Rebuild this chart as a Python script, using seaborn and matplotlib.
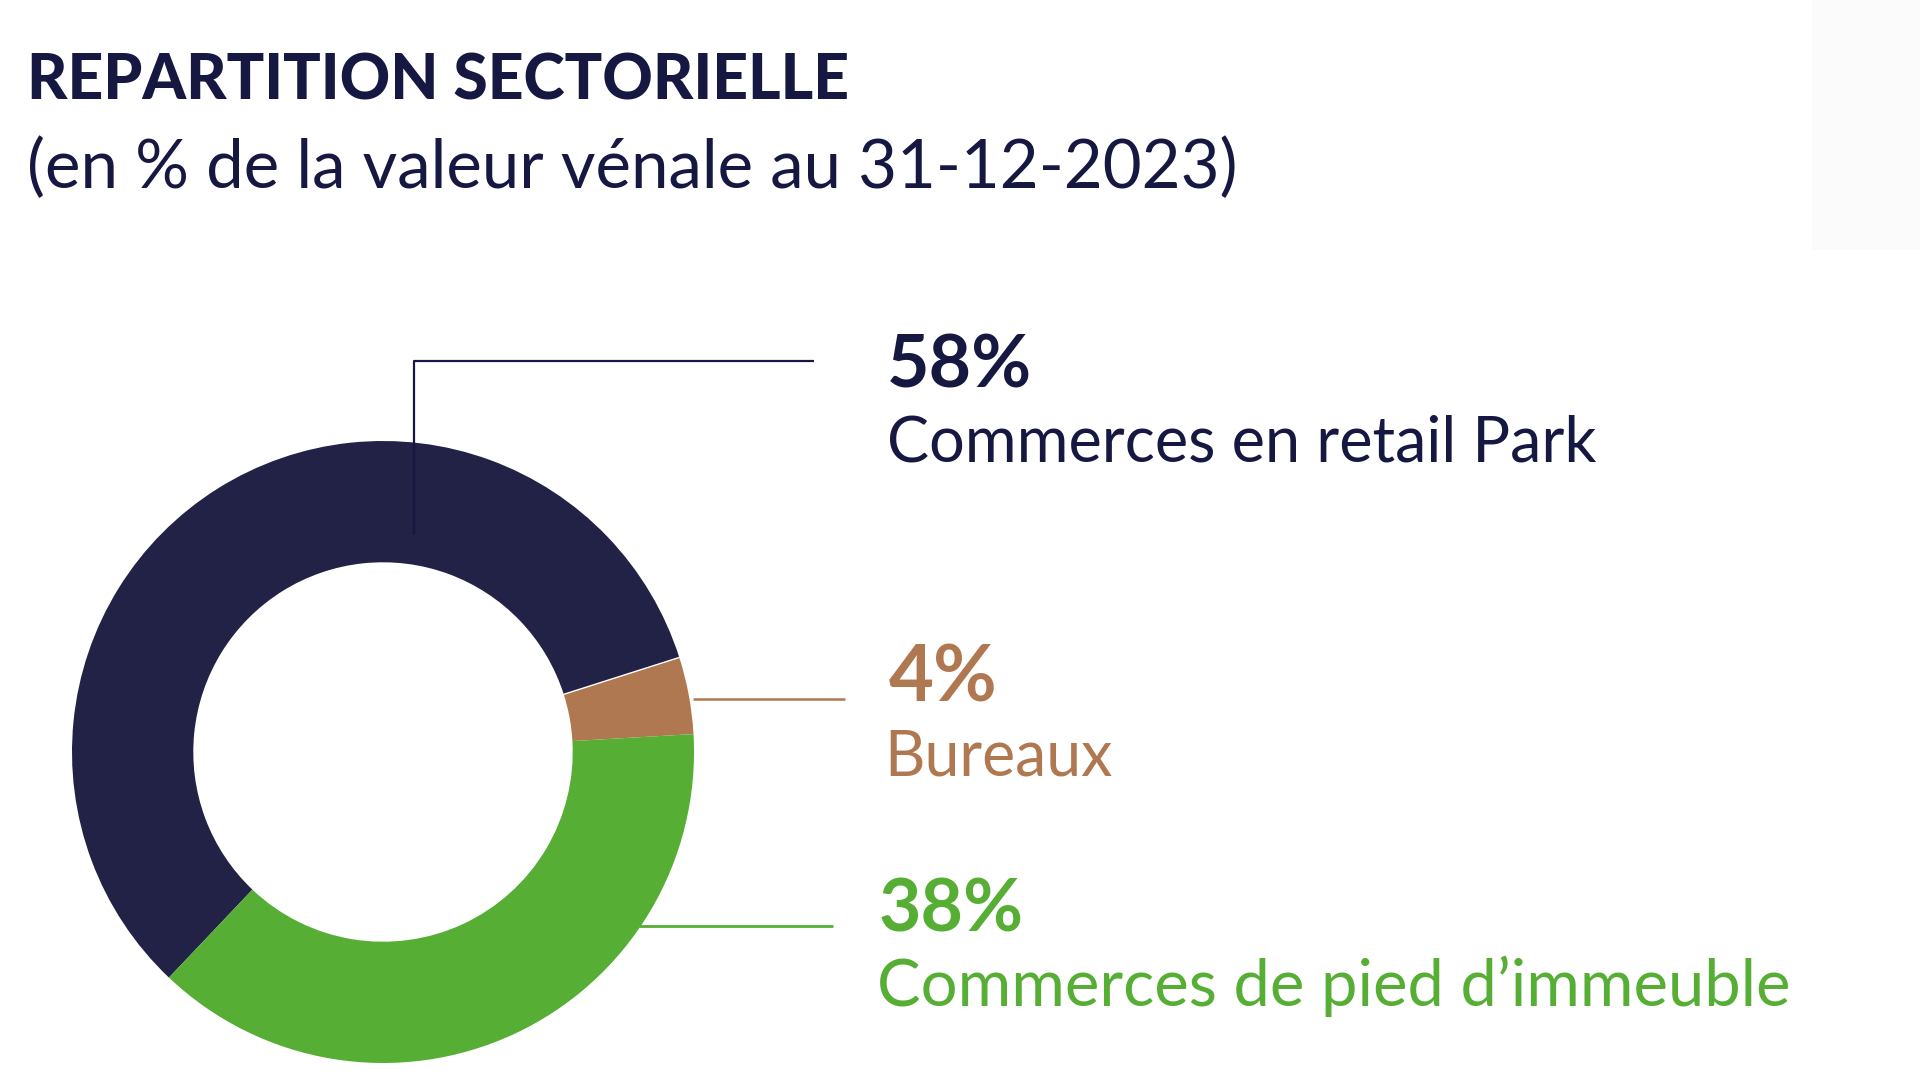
import matplotlib
matplotlib.use("Agg")
import matplotlib.pyplot as plt
from matplotlib.patches import Rectangle
import seaborn as sns
import pandas as pd
import numpy as np

# ---------------- data ----------------
categories = ["Commerces en retail Park", "Bureaux", "Commerces de pied d\u2019immeuble"]
shares = [58, 4, 38]
share_labels = ["58%", "4%", "38%"]
wedge_colors = ["#222246", "#b07850", "#56ae34"]
text_colors = ["#161842", "#b07850", "#56ae34"]

title = "REPARTITION SECTORIELLE"
subtitle = "(en % de la valeur v\u00e9nale au 31-12-2023)"

# ---------------- style ----------------
sns.set_theme(style="white")
plt.rcParams['font.family'] = ['Lato', 'DejaVu Sans']

W, H = 1920, 1080
fig = plt.figure(figsize=(19.2, 10.8), dpi=100)
fig.patch.set_facecolor("white")

# donut geometry (pixels)
cx, cy, r = 383, 752, 311
start = 226.5
hole = 0.61
ax = fig.add_axes([(cx - r) / W, (H - cy - r) / H, 2 * r / W, 2 * r / H])
df = pd.DataFrame({"category": categories, "share": shares})
ax.pie(df["share"], colors=wedge_colors, startangle=start, counterclock=False,
       radius=1.0, wedgeprops=dict(width=1 - hole, linewidth=0))
# thin white separator between first and second wedge
b = np.deg2rad(start - 360 * df["share"].iloc[0] / df["share"].sum())
ax.plot([hole * np.cos(b), np.cos(b)], [hole * np.sin(b), np.sin(b)],
        color="white", lw=1.0)
ax.set_xlim(-1, 1)
ax.set_ylim(-1, 1)
ax.set_aspect("equal")
ax.axis("off")

# overlay in pixel coordinates
ov = fig.add_axes([0, 0, 1, 1], zorder=5)
ov.set_xlim(0, W)
ov.set_ylim(H, 0)
ov.axis("off")
ov.patch.set_alpha(0)

ov.add_patch(Rectangle((1812, 0), 108, 250, color="#fbfbfb", lw=0, zorder=0))

# leader lines
ov.plot([414, 414, 814], [535, 361, 361], color=text_colors[0], lw=1.6, solid_capstyle="butt")
ov.plot([693, 845], [699, 699], color=text_colors[1], lw=1.8, solid_capstyle="butt")
ov.plot([639, 833], [926, 926], color=text_colors[2], lw=2.0, solid_capstyle="butt")

texts = []
def add(x, y, s, w, color, weight="normal", size=40):
    t = ov.text(x, y, s, color=color, fontsize=size, fontweight=weight,
                ha="left", va="baseline")
    texts.append((t, w))
    return t

add(27, 100, title, 822, "#161842", "black", 50)
add(27, 188, subtitle, 1210, "#161842", "normal", 40)

pct_pos = [(887, 387, 145), (889, 702, 109), (879, 931, 145)]
lab_pos = [(887, 462, 709), (884, 776, 228), (877, 1006, 912)]
for i in range(3):
    x, y, w = pct_pos[i]
    add(x, y, share_labels[i], w, text_colors[i], "bold", 48)
    x, y, w = lab_pos[i]
    add(x, y, categories[i], w, text_colors[i], "normal", 40)

fig.canvas.draw()
rend = fig.canvas.get_renderer()
for t, w in texts:
    bb = t.get_window_extent(rend)
    t.set_fontsize(t.get_fontsize() * w / bb.width)

fig.savefig("out.png", dpi=100, facecolor="white")
